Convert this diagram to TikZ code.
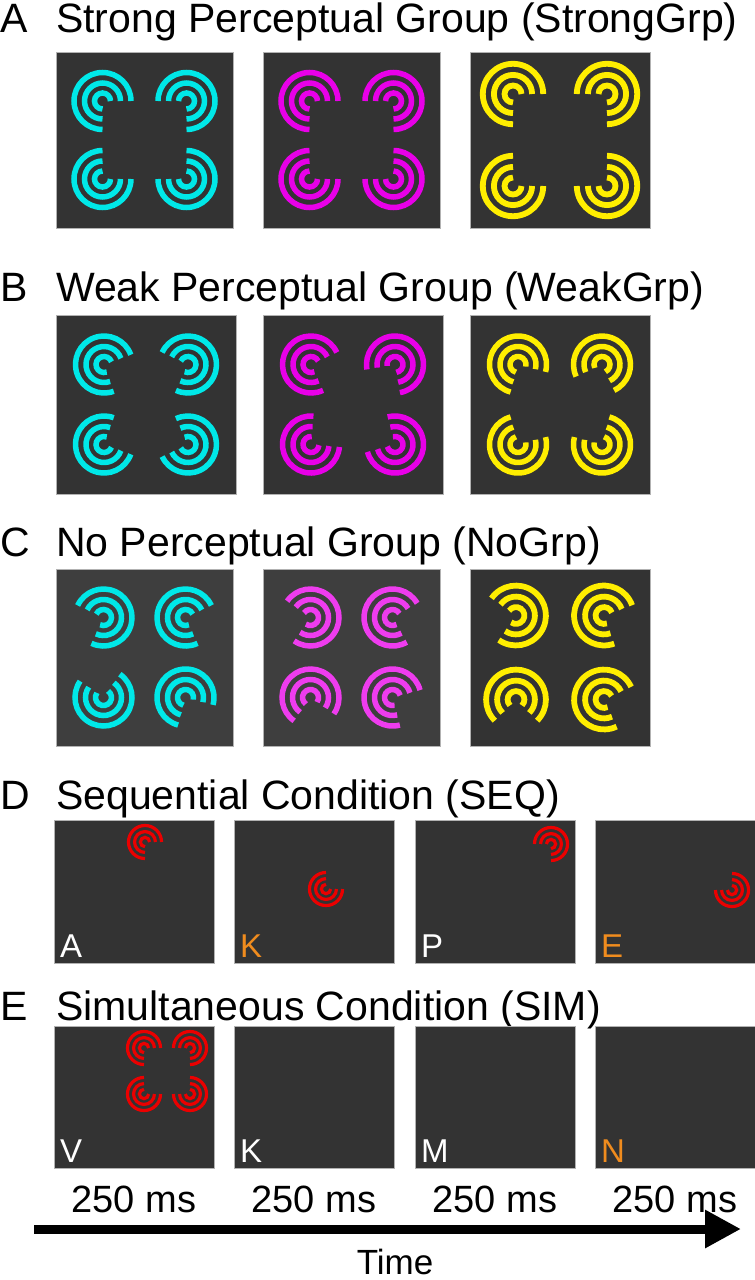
\documentclass[tikz,border=0pt]{standalone}
\usepackage{fontspec}
\setmainfont{Liberation Sans}
\usetikzlibrary{arrows.meta,calc}

\definecolor{bgdark}{RGB}{51,51,51}
\definecolor{bgsoft}{RGB}{62,62,62}
\definecolor{tcyan}{RGB}{0,232,232}
\definecolor{tmagenta}{RGB}{232,0,232}
\definecolor{tpink}{RGB}{238,60,238}
\definecolor{tyellow}{RGB}{255,238,0}
\definecolor{tred}{RGB}{235,0,0}
\definecolor{torange}{RGB}{240,140,30}

% one target: centre x, centre y, gap angle, colour, size
\newcommand{\target}[5]{%
  \foreach \r in {8,18,28.5}
    \draw[#4, line width=5.5*#5pt]
      ($({#1},{-(#2)})+({#3+45}:{\r*#5 pt})$) arc[start angle={#3+45}, end angle={#3+315}, radius={\r*#5 pt}];}

% four targets round a square centre: x, y, dx, dy, colour, size, gaps tl tr bl (br added after)
\newcommand{\quadset}[9]{%
  \target{#1-#3}{#2-#4}{#7}{#5}{#6}%
  \target{#1+#3}{#2-#4}{#8}{#5}{#6}%
  \target{#1-#3}{#2+#4}{#9}{#5}{#6}}

\tikzset{
  panel/.style={anchor=north west, inner sep=0pt, fill=bgdark, draw=gray!60, line width=0.8pt},
  title/.style={anchor=base west, inner sep=0pt, font=\fontsize{41}{44}\selectfont},
  letter/.style={anchor=base west, inner sep=0pt, font=\fontsize{33}{36}\selectfont, text=white},
}

\begin{document}
\begin{tikzpicture}[x=1pt, y=1pt]
\useasboundingbox (0,0) rectangle (755,-1280);

% A
\node[title] (tag_A) at (0,-32) {A};
\node[title] (ttl_A) at (56,-32) {Strong Perceptual Group (StrongGrp)};
\node[panel, minimum width=177pt, minimum height=176pt] (sq_A_1) at (56,-52) {};
\node[panel, minimum width=177pt, minimum height=176pt] (sq_A_2) at (263,-52) {};
\node[panel, minimum width=180pt, minimum height=176pt] (sq_A_3) at (470,-52) {};
\quadset{144.5}{140}{42}{39}{tcyan}{1}{-45}{225}{45}\target{186.5}{179}{135}{tcyan}{1}
\quadset{351.5}{140}{42}{39}{tmagenta}{1}{-45}{225}{45}\target{393.5}{179}{135}{tmagenta}{1}
\quadset{560}{140}{47}{46}{tyellow}{1.06}{-45}{225}{45}\target{607}{186}{135}{tyellow}{1.06}

% B
\node[title] (tag_B) at (0,-301) {B};
\node[title] (ttl_B) at (56,-301) {Weak Perceptual Group (WeakGrp)};
\node[panel, minimum width=180pt, minimum height=179pt] (sq_B_1) at (56,-315) {};
\node[panel, minimum width=180pt, minimum height=179pt] (sq_B_2) at (263,-315) {};
\node[panel, minimum width=180pt, minimum height=179pt] (sq_B_3) at (470,-315) {};
\quadset{146}{404.5}{42}{40}{tcyan}{1}{-25}{200}{25}\target{188}{444.5}{160}{tcyan}{1}
\quadset{353}{404.5}{42}{40}{tmagenta}{1}{-20}{235}{40}\target{395}{444.5}{150}{tmagenta}{1}
\quadset{560}{404.5}{42}{40}{tyellow}{1}{-60}{250}{60}\target{602}{444.5}{120}{tyellow}{1}

% C
\node[title] (tag_C) at (0,-556) {C};
\node[title] (ttl_C) at (56,-556) {No Perceptual Group (NoGrp)};
\node[panel, fill=bgsoft, minimum width=177pt, minimum height=177pt] (sq_C_1) at (56,-569) {};
\node[panel, fill=bgsoft, minimum width=177pt, minimum height=177pt] (sq_C_2) at (263,-569) {};
\node[panel, minimum width=180pt, minimum height=177pt] (sq_C_3) at (470,-569) {};
\quadset{144.5}{657.5}{41}{40}{tcyan}{1}{200}{-20}{100}\target{185.5}{697.5}{-60}{tcyan}{1}
\quadset{351.5}{657.5}{41}{40}{tpink}{1}{190}{-15}{-80}\target{392.5}{697.5}{-30}{tpink}{1}
\quadset{560}{657.5}{44}{42}{tyellow}{1.05}{190}{-25}{-90}\target{604}{699.5}{-20}{tyellow}{1.05}

% D
\node[title] (tag_D) at (0,-809) {D};
\node[title] (ttl_D) at (56,-809) {Sequential Condition (SEQ)};
\node[panel, minimum width=160pt, minimum height=143pt] (sq_D_1) at (54,-820) {};
\node[panel, minimum width=160pt, minimum height=143pt] (sq_D_2) at (234,-820) {};
\node[panel, minimum width=160pt, minimum height=143pt] (sq_D_3) at (415,-820) {};
\node[panel, minimum width=160pt, minimum height=143pt] (sq_D_4) at (595,-820) {};
\target{145}{842}{-45}{tred}{0.58}
\target{326}{889}{45}{tred}{0.58}
\target{551}{844}{225}{tred}{0.58}
\target{732}{890}{135}{tred}{0.58}
\node[letter] (let_D_1) at (60,-957) {A};
\node[letter, text=torange] (let_D_2) at (240,-957) {K};
\node[letter] (let_D_3) at (421,-957) {P};
\node[letter, text=torange] (let_D_4) at (601,-957) {E};

% E
\node[title] (tag_E) at (0,-1020) {E};
\node[title] (ttl_E) at (56,-1020) {Simultaneous Condition (SIM)};
\node[panel, minimum width=160pt, minimum height=142pt] (sq_E_1) at (54,-1026) {};
\node[panel, minimum width=160pt, minimum height=142pt] (sq_E_2) at (234,-1026) {};
\node[panel, minimum width=160pt, minimum height=142pt] (sq_E_3) at (415,-1026) {};
\node[panel, minimum width=160pt, minimum height=142pt] (sq_E_4) at (595,-1026) {};
\quadset{167}{1071}{23}{23}{tred}{0.58}{-45}{225}{45}\target{190}{1094}{135}{tred}{0.58}
\node[letter] (let_E_1) at (60,-1162) {V};
\node[letter] (let_E_2) at (240,-1162) {K};
\node[letter] (let_E_3) at (421,-1162) {M};
\node[letter, text=torange] (let_E_4) at (601,-1162) {N};

% timing
\foreach \i/\x in {1/134,2/314,3/495,4/675}
  \node[anchor=base, inner sep=0pt, font=\fontsize{38}{40}\selectfont] (dur_\i) at (\x,-1212) {250 ms};
\coordinate (t_start) at (34,-1229);
\coordinate (t_end) at (741,-1229);
\draw[line width=9pt, -{Triangle[length=36pt, width=36pt]}] (t_start) -- (t_end);
\node[anchor=base, inner sep=0pt, font=\fontsize{35}{40}\selectfont] (lbl_time) at (395,-1274) {Time};
\end{tikzpicture}
\end{document}
